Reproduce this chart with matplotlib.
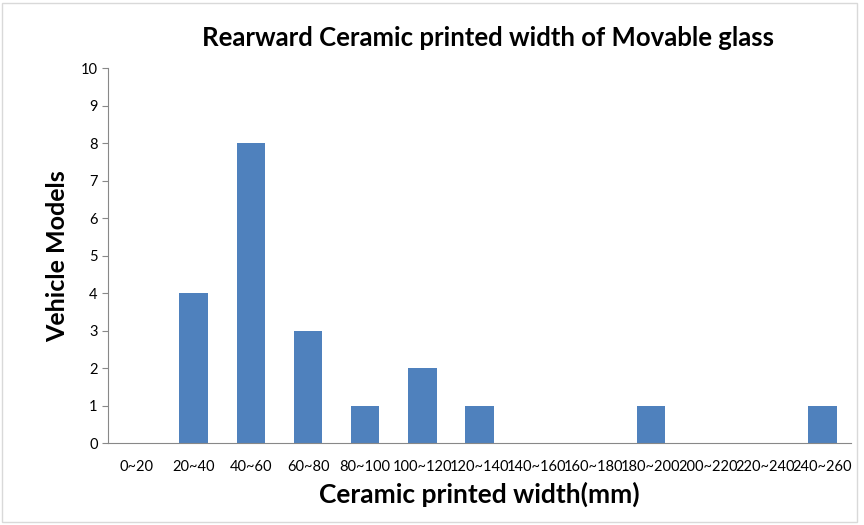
import matplotlib.pyplot as plt
import numpy as np

plt.rcParams['font.family'] = ['Lato', 'DejaVu Sans']

categories = ['0~20', '20~40', '40~60', '60~80', '80~100', '100~120', '120~140',
              '140~160', '160~180', '180~200', '200~220', '220~240', '240~260']
counts = [0, 4, 8, 3, 1, 2, 1, 0, 0, 1, 0, 0, 1]

fig = plt.figure(figsize=(8.64, 5.25), dpi=100)
ax = fig.add_axes([0.125, 0.156, 0.86, 0.714])
x = np.arange(len(categories))
ax.bar(x, counts, width=0.5, color='#4F81BD')

ax.set_xlim(-0.5, len(categories) - 0.5)
ax.set_ylim(0, 10)
ax.set_yticks(range(0, 11))
ax.set_xticks(x)
ax.set_xticklabels(categories, fontsize=10.5)
ax.tick_params(axis='y', labelsize=10.5, length=4, color='#888888', direction='out')
ax.tick_params(axis='x', length=0, pad=12)
for s in ['top', 'right']:
    ax.spines[s].set_visible(False)
for s in ['left', 'bottom']:
    ax.spines[s].set_color('#888888')

ax.set_title('Rearward Ceramic printed width of Movable glass', fontsize=18.5,
             fontweight='bold', pad=16, x=0.512)
ax.set_xlabel('Ceramic printed width(mm)', fontsize=19, fontweight='bold', labelpad=6)
ax.set_ylabel('Vehicle Models', fontsize=18, fontweight='bold', labelpad=8)

fig.patches.append(plt.Rectangle((0.002, 0.005), 0.99, 0.99, transform=fig.transFigure,
                                 fill=False, edgecolor='#d9d9d9', lw=1))
fig.savefig('out.png', dpi=100)
